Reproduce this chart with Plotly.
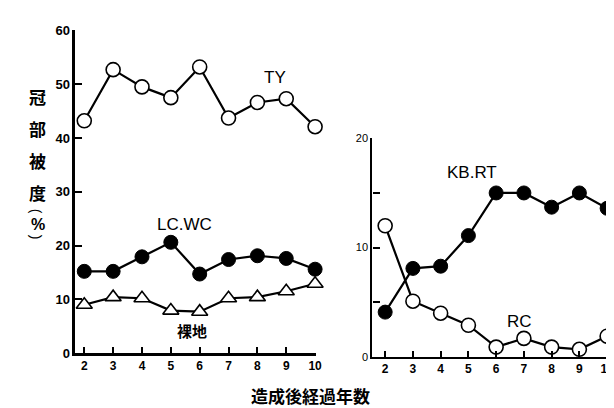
import plotly.graph_objects as go

W, H = 614, 408
years = [2, 3, 4, 5, 6, 7, 8, 9, 10]
ty = [43.2, 52.7, 49.5, 47.5, 53.2, 43.7, 46.6, 47.3, 42.1]
lcwc = [15.2, 15.2, 17.9, 20.6, 14.7, 17.4, 18.1, 17.6, 15.6]
bare = [9.0, 10.4, 10.2, 7.9, 7.7, 10.2, 10.4, 11.5, 12.9]
kbrt = [4.1, 8.1, 8.3, 11.1, 15.0, 15.0, 13.7, 15.0, 13.6]
rc = [12.0, 5.1, 4.0, 2.9, 0.9, 1.7, 0.9, 0.7, 1.9]
left_ticks = [0, 10, 20, 30, 40, 50, 60]
right_ticks = [0, 5, 10, 15, 20]
right_ticktext = ["0", "", "10", "", "20"]

def px_x(p):
    return p / W

def px_y(p):
    return 1 - p / H

fig = go.Figure()
line = dict(color="black", width=2.2)
open_circle = dict(symbol="circle", size=14, color="white", line=dict(color="black", width=1.6))
filled = dict(symbol="circle", size=14, color="black", line=dict(color="black", width=1))
tri = dict(symbol="triangle-up", size=14, color="white", line=dict(color="black", width=1.6))

fig.add_trace(go.Scatter(x=years, y=ty, mode="lines+markers", line=line, marker=open_circle, xaxis="x", yaxis="y", cliponaxis=False))
fig.add_trace(go.Scatter(x=years, y=lcwc, mode="lines+markers", line=line, marker=filled, xaxis="x", yaxis="y", cliponaxis=False))
fig.add_trace(go.Scatter(x=years, y=bare, mode="lines+markers", line=line, marker=tri, xaxis="x", yaxis="y", cliponaxis=False))
fig.add_trace(go.Scatter(x=years, y=kbrt, mode="lines+markers", line=line, marker=filled, xaxis="x2", yaxis="y2", cliponaxis=False))
fig.add_trace(go.Scatter(x=years, y=rc, mode="lines+markers", line=line, marker=open_circle, xaxis="x2", yaxis="y2", cliponaxis=False))

tickfont = dict(family="Liberation Sans, Arial", size=12, color="black", weight="bold")
common_x = dict(showgrid=False, zeroline=False, showline=True, linecolor="black",
                ticks="inside", ticklen=6, tickwidth=2, tickcolor="black",
                tickvals=years, tickfont=tickfont)
common_y = dict(showgrid=False, zeroline=False, showline=True, linecolor="black",
                ticks="inside", ticklen=7, tickwidth=2, tickcolor="black", tickfont=tickfont)

fig.update_layout(
    width=W, height=H, margin=dict(l=0, r=0, t=0, b=0),
    paper_bgcolor="white", plot_bgcolor="white", showlegend=False,
    xaxis=dict(common_x, domain=[px_x(68), px_x(311)], range=[1.69, 10.03],
               anchor="y", linewidth=2.5),
    yaxis=dict(common_y, domain=[px_y(351), px_y(16)], range=[0, 60],
               tickvals=left_ticks, anchor="x", linewidth=2.5,
               tickfont=dict(tickfont, size=13)),
    xaxis2=dict(common_x, domain=[px_x(368), px_x(607)], range=[1.54, 10.07],
                anchor="y2", linewidth=2.2),
    yaxis2=dict(common_y, domain=[px_y(355), px_y(128)], range=[0, 20],
                tickvals=right_ticks, ticktext=right_ticktext, anchor="x2",
                linewidth=2.2, tickfont=dict(tickfont, size=11, weight="normal")),
)

def label(text, x, y, size=16, bold=False, family="Liberation Sans, Arial", angle=0):
    fig.add_annotation(text=text, x=px_x(x), y=px_y(y), xref="paper", yref="paper",
                       showarrow=False, xanchor="center", yanchor="middle",
                       textangle=angle,
                       font=dict(family=family, size=size, color="black",
                                 weight="bold" if bold else "normal"))

label("TY", 270, 65, 17)
label("LC.WC", 178, 218, 17)
label("KB.RT", 469, 163, 17)
label("RC", 517, 318, 17)
cjk = "Noto Sans CJK JP"
label("裸地", 186, 328, 15, True, cjk)
label("造成後経過年数", 305, 395, 17, True, cjk)
for ch, yy in [("冠", 85), ("部", 118), ("被", 151), ("度", 184)]:
    label(ch, 30, yy, 17, True, cjk)
label("(", 29, 204, 14, False, "Liberation Sans, Arial", 90)
label("%", 30, 217, 16, True, "Liberation Sans, Arial")
label(")", 29, 231, 14, False, "Liberation Sans, Arial", 90)

fig.write_html("out.html")
